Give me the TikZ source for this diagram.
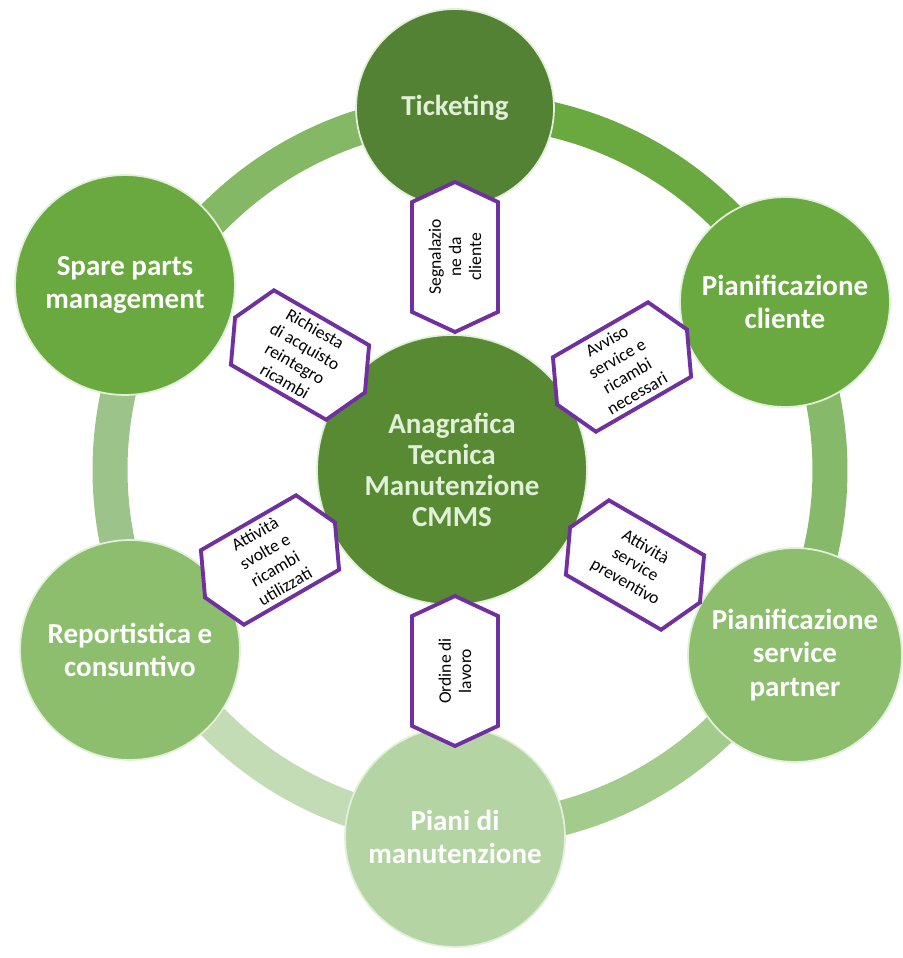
\documentclass[tikz,border=0pt]{standalone}
\usepackage{fontspec}
\setmainfont{Carlito}
\usetikzlibrary{shapes.symbols}
\definecolor{hubleaf}{RGB}{88,138,52}
\definecolor{darkleaf}{RGB}{84,130,53}
\definecolor{leaf}{RGB}{106,168,64}
\definecolor{midleaf}{RGB}{140,190,110}
\definecolor{lightleaf}{RGB}{181,212,163}
\definecolor{paleleaf}{RGB}{226,240,217}
\definecolor{ringA}{RGB}{106,168,64}
\definecolor{ringB}{RGB}{134,185,106}
\definecolor{ringC}{RGB}{163,204,140}
\definecolor{ringD}{RGB}{196,220,182}
\definecolor{ringE}{RGB}{156,196,138}
\definecolor{ringF}{RGB}{132,184,100}
\definecolor{tagpurple}{RGB}{112,48,160}
\tikzset{
    bubble/.style={circle, draw=paleleaf, line width=1pt, inner sep=0pt, align=center, text=white,
        font=\bfseries\fontsize{16.5}{19}\selectfont}, % the six outer circles
    hub/.style={bubble, minimum size=5.4cm, fill=hubleaf, text=paleleaf,
        font=\bfseries\fontsize{16.5}{17.5}\selectfont}, % the middle circle
    tag/.style={signal, signal to=east and west, signal pointer angle=130, draw=tagpurple,
        line width=2.2pt, fill=white, minimum width=3cm, minimum height=1.72cm, inner sep=0pt,
        align=center, font=\fontsize{10}{11.5}\selectfont}, % the purple hexagons
    ringpart/.style={line width=0.7cm}, % one piece of the ring
}
\begin{document}
\begin{tikzpicture}[x=0.02cm, y=0.02cm]
    \useasboundingbox (0,0) rectangle (903,958);
    \coordinate (ringc) at (470,488);
    % ring behind the circles
    \foreach \a/\b/\c in {92/28/ringA, 28/-30/ringB, -30/-92/ringC, -92/-152/ringD, 208/152/ringE, 152/92/ringF}
        \draw[ringpart, \c] ([shift={(\a:360)}]ringc) arc[start angle=\a, end angle=\b, radius=360];
    % outer circles
    \node[bubble, minimum size=3.96cm, fill=darkleaf, text=paleleaf] (ticket) at (455,850) {Ticketing};
    \node[bubble, minimum size=4.2cm, fill=leaf] (cliente) at (785,656) {Pianificazione\\cliente};
    \node[bubble, minimum size=4.28cm, fill=midleaf] (partner) at (795,303) {Pianificazione\\service\\partner};
    \node[bubble, minimum size=4.4cm, fill=lightleaf] (piani) at (455,121) {Piani di\\manutenzione};
    \node[bubble, minimum size=4.4cm, fill=midleaf] (report) at (130,308) {Reportistica e\\consuntivo};
    \node[bubble, minimum size=4.4cm, fill=leaf] (spare) at (125,673) {Spare parts\\management};
    % middle circle
    \node[hub] (cmms) at (452,488) {Anagrafica\\Tecnica\\Manutenzione\\CMMS};
    % hexagons on the spokes
    \node[tag, rotate=90] (segnala) at (455,701) {Segnalazio\\ne da\\cliente};
    \node[tag, rotate=30] (avviso) at (622,591) {Avviso\\service e\\ricambi\\necessari};
    \node[tag, rotate=-30] (service) at (635,393) {Attività\\service\\preventivo};
    \node[tag, rotate=90] (ordine) at (455,287) {Ordine di\\lavoro};
    \node[tag, rotate=30] (svolte) at (270,398) {Attività\\svolte e\\ricambi\\utilizzati};
    \node[tag, rotate=-30] (richiesta) at (300,603) {Richiesta\\di acquisto\\reintegro\\ricambi};
\end{tikzpicture}
\end{document}
